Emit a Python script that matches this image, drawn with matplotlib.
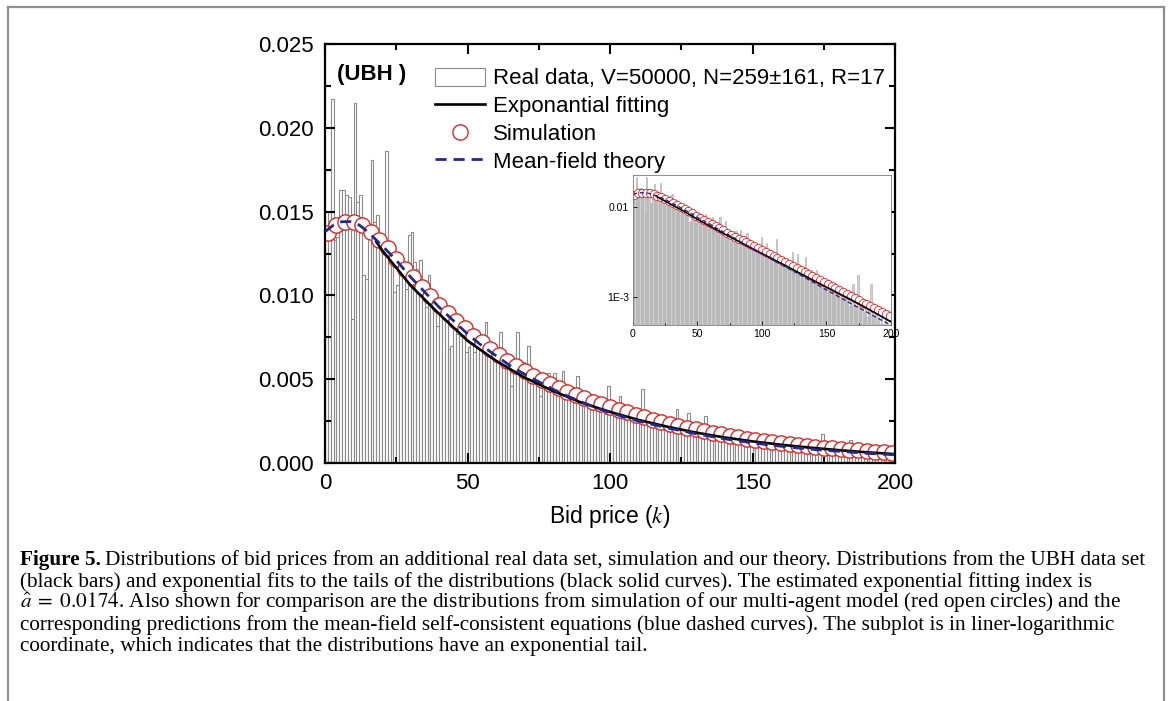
import matplotlib
matplotlib.use('Agg')
import matplotlib.pyplot as plt
from matplotlib.lines import Line2D
from matplotlib.ticker import MultipleLocator, FixedLocator
import numpy as np

plt.rcParams['font.family'] = ['Liberation Sans', 'DejaVu Sans']
plt.rcParams['mathtext.fontset'] = 'stix'

# histogram of bid prices, one bin per unit k (values in units of 1e-3)
bins = np.arange(200)
real_data = [
    13.5, 15.0, 21.7, 13.3, 13.5, 16.3, 16.3, 16.0, 15.9, 8.6,
    21.5, 15.6, 16.0, 11.2, 11.0, 13.5, 18.1, 14.4, 14.8, 12.9,
    12.8, 18.6, 13.0, 12.6, 10.2, 10.6, 11.9, 11.8, 10.4, 13.6,
    13.8, 12.0, 11.6, 12.1, 9.7, 9.3, 11.2, 10.4, 9.8, 8.2,
    9.6, 8.9, 9.1, 6.8, 7.0, 8.4, 7.7, 7.6, 7.9, 6.6,
    6.9, 7.3, 6.6, 7.4, 7.6, 6.7, 8.4, 6.9, 7.0, 6.2,
    6.3, 7.8, 6.2, 5.9, 5.8, 4.6, 6.0, 7.8, 5.8, 6.0,
    5.6, 7.0, 5.5, 5.0, 4.6, 4.0, 4.9, 5.3, 5.4, 4.8,
    5.4, 4.6, 4.2, 5.5, 4.4, 4.2, 4.5, 3.9, 5.2, 3.8,
    3.6, 4.2, 3.8, 3.7, 3.5, 3.3, 3.6, 3.2, 2.9, 4.6,
    3.1, 2.8, 3.0, 4.0, 2.9, 2.6, 2.8, 2.5, 2.6, 2.7,
    2.4, 4.4, 2.3, 2.5, 2.2, 2.6, 2.4, 2.3, 2.1, 2.4,
    2.2, 2.3, 2.0, 3.2, 2.1, 2.0, 1.9, 3.0, 2.0, 2.1,
    1.9, 2.1, 1.8, 2.8, 1.7, 1.9, 1.8, 1.6, 2.0, 1.7,
    1.5, 1.8, 2.0, 1.4, 1.7, 1.5, 1.6, 1.3, 1.5, 1.4,
    1.2, 1.4, 1.3, 1.1, 1.3, 1.2, 1.0, 1.2, 1.1, 1.3,
    1.0, 1.1, 0.9, 1.0, 1.1, 0.9, 1.0, 0.8, 0.9, 0.8,
    1.38, 0.9, 0.7, 0.8, 1.74, 0.9, 0.7, 0.8, 0.6, 0.7,
    0.8, 0.6, 0.7, 0.6, 1.38, 0.7, 0.5, 0.6, 0.7, 0.5,
    0.6, 0.5, 0.6, 0.4, 0.5, 0.6, 0.4, 0.5, 0.4, 0.5,
]

# exponential fit (black)
fit_k = [18, 20, 30, 40, 50, 60, 70, 80, 90, 100, 110, 120, 130, 140, 150, 160, 170, 180, 190, 200]
fit_val = [13.2, 12.7, 10.6, 8.9, 7.3, 6.1, 5.1, 4.3, 3.6, 3.05, 2.57, 2.17, 1.82, 1.53, 1.29,
           1.09, 0.92, 0.77, 0.64, 0.53]

# simulation (red circles)
sim_k = list(range(1, 200, 3))
sim_val = [13.7, 14.2, 14.4, 14.4, 14.2, 13.8, 13.3, 12.8, 12.2, 11.6,
           11.1, 10.5, 9.95, 9.45, 8.95, 8.5, 8.05, 7.6, 7.2, 6.8,
           6.45, 6.1, 5.8, 5.5, 5.2, 4.95, 4.7, 4.45, 4.25, 4.05,
           3.85, 3.65, 3.5, 3.35, 3.18, 3.02, 2.87, 2.72, 2.58, 2.45,
           2.33, 2.21, 2.10, 2.0, 1.90, 1.80, 1.71, 1.62, 1.54, 1.46,
           1.39, 1.32, 1.25, 1.19, 1.13, 1.07, 1.02, 0.97, 0.92, 0.87,
           0.83, 0.79, 0.75, 0.71, 0.68, 0.65, 0.62]

# mean-field theory (blue dashed)
mf_k = [0, 3, 6, 9, 12, 15, 18, 21, 25, 30, 35, 40, 45, 50, 55, 60, 65, 70, 75, 80,
        85, 90, 95, 100, 110, 120, 130, 140, 150, 160, 170, 180, 190, 200]
mf_val = [13.8, 14.2, 14.4, 14.4, 14.2, 13.8, 13.3, 12.8, 12.1, 11.1, 10.2, 9.3, 8.5, 7.7,
          7.0, 6.4, 5.8, 5.3, 4.85, 4.4, 4.0, 3.65, 3.3, 3.0, 2.5, 2.1, 1.75, 1.45, 1.2,
          1.0, 0.83, 0.7, 0.58, 0.49]

real = np.array(real_data) * 1e-3
fit = np.array(fit_val) * 1e-3
sim = np.array(sim_val) * 1e-3
mf = np.array(mf_val) * 1e-3

red = '#d42a2a'
navy = '#1f2a8a'

fig = plt.figure(figsize=(11.7, 7.01), dpi=100)

# figure frame (grey box open at the bottom)
for xs, ys in [([0.0068, 0.0068], [0.0, 0.990]), ([0.9949, 0.9949], [0.0, 0.990]),
               ([0.0068, 0.9949], [0.990, 0.990])]:
    fig.add_artist(Line2D(xs, ys, color='#8f8f8f', lw=1.6, transform=fig.transFigure))

ax = fig.add_axes([0.2778, 0.3395, 0.4872, 0.5977])
bars = ax.bar(bins, real, width=1, align='edge', facecolor='white', edgecolor='#8a8a8a',
              linewidth=0.8, zorder=1)
l_sim, = ax.plot(sim_k, sim, 'o', ms=11, mfc='white', mec=red, mew=1.0, zorder=2)
l_fit, = ax.plot(fit_k, fit, '-', color='black', lw=1.9, zorder=3)
l_mf, = ax.plot(mf_k, mf, '--', color=navy, lw=2.0, dashes=(4, 2.5), zorder=4)

ax.set_xlim(0, 200)
ax.set_ylim(0, 0.025)
ax.xaxis.set_major_locator(MultipleLocator(50))
ax.xaxis.set_minor_locator(MultipleLocator(25))
ax.yaxis.set_major_locator(MultipleLocator(0.005))
ax.yaxis.set_minor_locator(MultipleLocator(0.0025))
ax.yaxis.set_major_formatter(matplotlib.ticker.FormatStrFormatter('%.3f'))
ax.tick_params(which='both', direction='in', top=True, right=True, width=1.5, labelsize=16)
ax.tick_params(which='major', length=7)
ax.tick_params(which='minor', length=4)
ax.tick_params(axis='y', pad=8)
ax.tick_params(axis='x', pad=7)
for s in ax.spines.values():
    s.set_linewidth(1.6)
ax.set_xlabel('Bid price ($k$)', fontsize=16.5, labelpad=7)

ax.text(0.021, 0.915, '(UBH )', transform=ax.transAxes, fontsize=16, fontweight='bold')

ax.legend([bars, l_fit, l_sim, l_mf],
          ['Real data, V=50000, N=259\u00b1161, R=17', 'Exponantial fitting', 'Simulation',
           'Mean-field theory'],
          loc='upper left', bbox_to_anchor=(0.17, 0.975), frameon=False, fontsize=16,
          handlelength=2.25, handleheight=0.85, handletextpad=0.35, labelspacing=0.28,
          borderaxespad=0.2)

# inset in lin-log coordinates
ins = fig.add_axes([0.541, 0.5364, 0.2205, 0.214])
ins.bar(bins, real, width=1, align='edge', facecolor='#d0d0d0', edgecolor='#b4b4b4', linewidth=0.5)
ins.plot(sim_k, sim, 'o', ms=6, mfc='white', mec=red, mew=0.6)
ins.plot(fit_k, fit, '-', color='black', lw=1.2)
ins.plot(mf_k, mf, '--', color=navy, lw=1.0, dashes=(3, 2))
ins.set_yscale('log')
ins.set_xlim(0, 200)
ins.set_ylim(4.9e-4, 2.27e-2)
ins.xaxis.set_major_locator(MultipleLocator(50))
ins.xaxis.set_minor_locator(MultipleLocator(25))
ins.yaxis.set_major_locator(FixedLocator([1e-3, 1e-2]))
ins.yaxis.set_minor_locator(matplotlib.ticker.NullLocator())
ins.set_yticklabels(['1E-3', '0.01'])
ins.tick_params(which='both', direction='in', labelsize=7.5, width=0.6, pad=3)
ins.tick_params(which='major', length=3)
ins.tick_params(which='minor', length=1.5)
for s in ins.spines.values():
    s.set_linewidth(0.6)
    s.set_color('#777777')

# caption
cap_font = ['Liberation Serif', 'DejaVu Serif']
cap_size = 15.3
y0 = 1 - 560 / 701
dy = 21.7 / 701
t1 = fig.text(0.0171, y0, 'Figure 5.', fontsize=cap_size, family=cap_font, fontweight='bold', va='center')
fig.canvas.draw()
bb = t1.get_window_extent()
x_rest = (bb.x1 + 4) / fig.bbox.width
fig.text(x_rest, y0, 'Distributions of bid prices from an additional real data set, simulation and our theory. '
         'Distributions from the UBH data set', fontsize=cap_size, family=cap_font, va='center')
lines = [
    '(black bars) and exponential fits to the tails of the distributions (black solid curves). '
    'The estimated exponential fitting index is',
    r'$\hat{a}\;=\;0.0174$. Also shown for comparison are the distributions from simulation of our '
    'multi-agent model (red open circles) and the',
    'corresponding predictions from the mean-field self-consistent equations (blue dashed curves). '
    'The subplot is in liner-logarithmic',
    'coordinate, which indicates that the distributions have an exponential tail.',
]
for i, s in enumerate(lines):
    fig.text(0.0171, y0 - (i + 1) * dy, s, fontsize=cap_size, family=cap_font, va='center')

fig.savefig('out.png', dpi=100)
